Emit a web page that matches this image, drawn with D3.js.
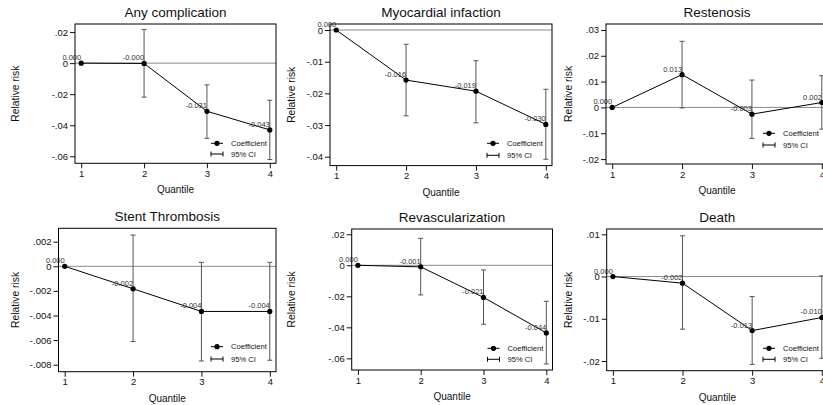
<!DOCTYPE html>
<html>
<head>
<meta charset="utf-8">
<script src="https://cdn.jsdelivr.net/npm/d3@7"></script>
<style>
  html, body { margin: 0; padding: 0; background: #fff; overflow: hidden; }
  svg { display: block; font-family: "Liberation Sans", Arial, sans-serif; }
</style>
</head>
<body>
<svg id="chart" width="823" height="405"></svg>
<script>
// ---------------- DATA ----------------
const quantiles = [1, 2, 3, 4];
const panelTitles = ["Any complication", "Myocardial infaction", "Restenosis",
                     "Stent Thrombosis", "Revascularization", "Death"];

const coefAny   = [0, -0.0002, -0.0310, -0.0430];
const lowerAny  = [null, -0.0219, -0.0484, -0.0621];
const upperAny  = [null, 0.0217, -0.0140, -0.0239];

const coefMI    = [0, -0.0158, -0.0193, -0.0298];
const lowerMI   = [null, -0.0271, -0.0293, -0.0408];
const upperMI   = [null, -0.0045, -0.0097, -0.0187];

const coefRest  = [0, 0.0127, -0.0026, 0.0019];
const lowerRest = [null, -0.0002, -0.0120, -0.0084];
const upperRest = [null, 0.0256, 0.0106, 0.0123];

const coefST    = [0, -0.00183, -0.00367, -0.00367];
const lowerST   = [null, -0.00612, -0.00770, -0.00764];
const upperST   = [null, 0.00254, 0.00032, 0.00032];

const coefRev   = [0, -0.0010, -0.0207, -0.0436];
const lowerRev  = [null, -0.0191, -0.0380, -0.0636];
const upperRev  = [null, 0.0174, -0.0030, -0.0232];

const coefDeath = [0, -0.00157, -0.0128, -0.0097];
const lowerDeath= [null, -0.01247, -0.0208, -0.01936];
const upperDeath= [null, 0.00964, -0.00474, 0.00017];

const yTicksAny   = [0.02, 0, -0.02, -0.04, -0.06];
const yTicksMI    = [0, -0.01, -0.02, -0.03, -0.04];
const yTicksRest  = [0.03, 0.02, 0.01, 0, -0.01, -0.02];
const yTicksST    = [0.002, 0, -0.002, -0.004, -0.006, -0.008];
const yTicksRev   = [0.02, 0, -0.02, -0.04, -0.06];
const yTicksDeath = [0.01, 0, -0.01, -0.02];

const yDomains = [[-0.0645, 0.0252], [-0.0428, 0.0019], [-0.0219, 0.0323],
                  [-0.00857, 0.00309], [-0.0675, 0.0234], [-0.0223, 0.01126]];

const legendLabels = ["Coefficient", "95% CI"];
const xTitle = "Quantile";
const yTitle = "Relative risk";

// ---------------- LAYOUT ----------------
// frame: left, right, top, bottom ; yTitleX ; legend y offsets from frame bottom
const layout = [
  { l: 75,    r: 276,   t: 24,    b: 163.3, yt: 15,    lg: [-20, -9.3] },
  { l: 330,   r: 552,   t: 24,    b: 165.6, yt: 291.7, lg: [-22.3, -10.3] },
  { l: 606,   r: 828,   t: 24,    b: 164,   yt: 568.3, lg: [-30.7, -19] },
  { l: 58.5,  r: 276,   t: 228.3, b: 371.7, yt: 15,    lg: [-25, -12.7] },
  { l: 351.7, r: 552.5, t: 229,   b: 370,   yt: 291.7, lg: [-21.7, -10.7] },
  { l: 606.7, r: 828,   t: 229,   b: 370.7, yt: 568.3, lg: [-22.4, -11.4] }
];
const xPad = 6.2;

const panels = [
  { coef: coefAny, lo: lowerAny, hi: upperAny, ticks: yTicksAny },
  { coef: coefMI, lo: lowerMI, hi: upperMI, ticks: yTicksMI },
  { coef: coefRest, lo: lowerRest, hi: upperRest, ticks: yTicksRest },
  { coef: coefST, lo: lowerST, hi: upperST, ticks: yTicksST },
  { coef: coefRev, lo: lowerRev, hi: upperRev, ticks: yTicksRev },
  { coef: coefDeath, lo: lowerDeath, hi: upperDeath, ticks: yTicksDeath }
];

const fmtTick = v => v === 0 ? "0" : String(v).replace("0.", ".");
const fmtVal = v => v.toFixed(3);

const svg = d3.select("#chart");
svg.append("rect").attr("width", 823).attr("height", 405).attr("fill", "#fff");

const ciColor = "#555";

panels.forEach((p, i) => {
  const L = layout[i];
  const g = svg.append("g");
  const x = d3.scaleLinear().domain([1, 4]).range([L.l + xPad, L.r - xPad]);
  const y = d3.scaleLinear().domain(yDomains[i]).range([L.b, L.t]);

  // title
  g.append("text").attr("x", (L.l + L.r) / 2).attr("y", L.t - 7.5)
    .attr("text-anchor", "middle").attr("font-size", 13.5).attr("fill", "#111")
    .text(panelTitles[i]);

  // y axis
  const yAxis = d3.axisLeft(y).tickValues(p.ticks).tickFormat(fmtTick)
    .tickSize(5).tickPadding(2);
  const ya = g.append("g").attr("transform", `translate(${L.l},0)`).call(yAxis);
  ya.select(".domain").remove();
  ya.selectAll("text").attr("font-size", 9.5).attr("font-family", "Liberation Sans, Arial, sans-serif").attr("fill", "#111");
  ya.selectAll("line").attr("stroke", "#111");

  // x axis
  const xAxis = d3.axisBottom(x).tickValues(quantiles).tickFormat(d3.format("d"))
    .tickSize(5).tickPadding(2);
  const xa = g.append("g").attr("transform", `translate(0,${L.b})`).call(xAxis);
  xa.select(".domain").remove();
  xa.selectAll("text").attr("font-size", 9.5).attr("font-family", "Liberation Sans, Arial, sans-serif").attr("fill", "#111");
  xa.selectAll("line").attr("stroke", "#111");

  // axis titles
  g.append("text").attr("x", (L.l + L.r) / 2).attr("y", L.b + 30)
    .attr("text-anchor", "middle").attr("font-size", 10).attr("fill", "#111").text(xTitle);
  const ym = (L.t + L.b) / 2;
  g.append("text").attr("transform", `translate(${L.yt + 3.5},${ym}) rotate(-90)`)
    .attr("text-anchor", "middle").attr("font-size", 10.3).attr("fill", "#111").text(yTitle);

  // zero line
  g.append("line").attr("x1", L.l).attr("x2", L.r).attr("y1", y(0)).attr("y2", y(0))
    .attr("stroke", "#8a8a8a").attr("stroke-width", 1);

  // CIs
  const ciData = quantiles.map((q, k) => ({ q, lo: p.lo[k], hi: p.hi[k] })).filter(d => d.lo !== null);
  const ci = g.append("g").attr("stroke", ciColor).attr("stroke-width", 1).attr("fill", "none");
  ciData.forEach(d => {
    ci.append("line").attr("x1", x(d.q)).attr("x2", x(d.q)).attr("y1", y(d.lo)).attr("y2", y(d.hi));
    ci.append("line").attr("x1", x(d.q) - 2.5).attr("x2", x(d.q) + 2.5).attr("y1", y(d.lo)).attr("y2", y(d.lo));
    ci.append("line").attr("x1", x(d.q) - 2.5).attr("x2", x(d.q) + 2.5).attr("y1", y(d.hi)).attr("y2", y(d.hi));
  });

  // connecting line
  const pts = quantiles.map((q, k) => ({ q, v: p.coef[k] }));
  g.append("path").datum(pts)
    .attr("d", d3.line().x(d => x(d.q)).y(d => y(d.v)))
    .attr("fill", "none").attr("stroke", "#000").attr("stroke-width", 1);

  // points
  g.selectAll("circle.pt").data(pts).join("circle").attr("class", "pt")
    .attr("cx", d => x(d.q)).attr("cy", d => y(d.v)).attr("r", 2.6).attr("fill", "#000");

  // value labels
  g.selectAll("text.vl").data(pts).join("text").attr("class", "vl")
    .attr("x", d => x(d.q)).attr("y", d => y(d.v) - 3)
    .attr("text-anchor", "end").attr("font-size", 7.5).attr("fill", "#333")
    .text(d => fmtVal(d.v));

  // frame
  g.append("rect").attr("x", L.l).attr("y", L.t).attr("width", L.r - L.l).attr("height", L.b - L.t)
    .attr("fill", "none").attr("stroke", "#000").attr("stroke-width", 1);

  // legend
  const lx0 = L.r - 65, lx1 = L.r - 53, tx = L.r - 45;
  const y1 = L.b + L.lg[0], y2 = L.b + L.lg[1];
  g.append("line").attr("x1", lx0).attr("x2", lx1).attr("y1", y1).attr("y2", y1).attr("stroke", "#000");
  g.append("circle").attr("cx", (lx0 + lx1) / 2).attr("cy", y1).attr("r", 2.6).attr("fill", "#000");
  g.append("text").attr("x", tx).attr("y", y1).attr("dy", "0.35em").attr("font-size", 7.6).attr("fill", "#111").text(legendLabels[0]);
  const lg = g.append("g").attr("stroke", "#000");
  lg.append("line").attr("x1", lx0).attr("x2", lx1).attr("y1", y2).attr("y2", y2);
  lg.append("line").attr("x1", lx0).attr("x2", lx0).attr("y1", y2 - 2.5).attr("y2", y2 + 2.5);
  lg.append("line").attr("x1", lx1).attr("x2", lx1).attr("y1", y2 - 2.5).attr("y2", y2 + 2.5);
  g.append("text").attr("x", tx).attr("y", y2).attr("dy", "0.35em").attr("font-size", 7.6).attr("fill", "#111").text(legendLabels[1]);
});
</script>
</body>
</html>
